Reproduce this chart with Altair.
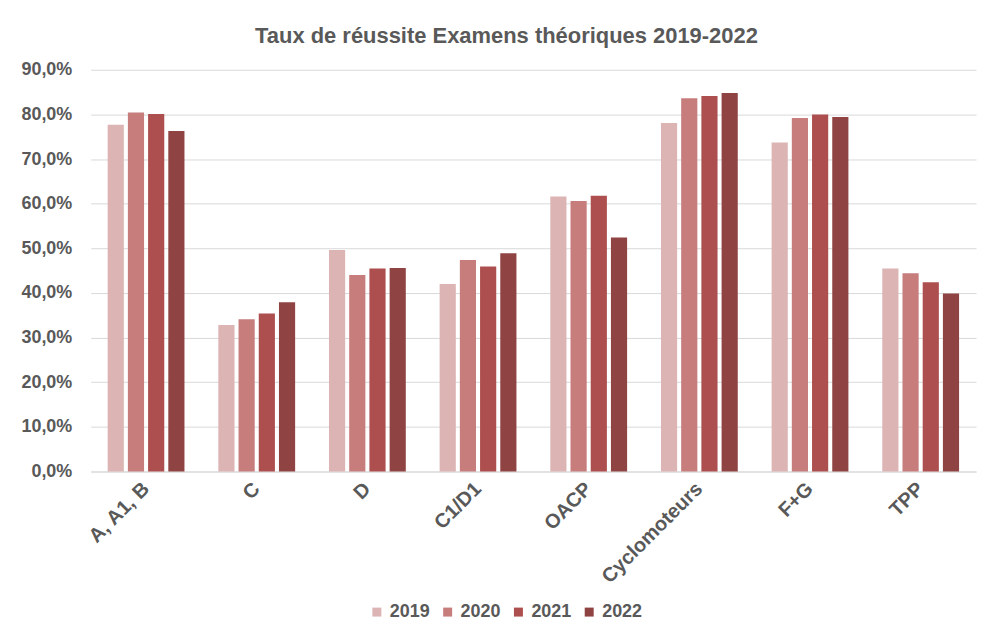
import altair as alt
import pandas as pd

categories = ["A, A1, B", "C", "D", "C1/D1", "OACP", "Cyclomoteurs", "F+G", "TPP"]
years = ["2019", "2020", "2021", "2022"]
v2019 = [77.7, 32.8, 49.6, 42.0, 61.6, 78.1, 73.7, 45.5]
v2020 = [80.4, 34.1, 44.0, 47.4, 60.6, 83.6, 79.2, 44.4]
v2021 = [80.1, 35.4, 45.5, 45.9, 61.8, 84.1, 80.0, 42.4]
v2022 = [76.3, 37.9, 45.6, 48.9, 52.4, 84.8, 79.4, 39.9]
colors = ["#dcb4b4", "#c67d7c", "#ad4f4e", "#8f4343"]

rows = []
for y, vals in zip(years, [v2019, v2020, v2021, v2022]):
    for c, v in zip(categories, vals):
        rows.append({"cat": c, "year": y, "val": v / 100})
df = pd.DataFrame(rows)

font = "Liberation Sans"
gray = "#595959"

chart = alt.Chart(df).mark_bar().encode(
    x=alt.X("cat:N", sort=categories, title=None,
            scale=alt.Scale(paddingInner=0.306, paddingOuter=0.153),
            axis=alt.Axis(labelAngle=-45, labelFont=font, labelFontSize=20,
                          labelFontWeight="bold", labelColor=gray, ticks=False,
                          domainColor="#d9d9d9", labelPadding=14, labelAlign="right",
                          labelBaseline="middle")),
    xOffset=alt.XOffset("year:N", sort=years,
                        scale=alt.Scale(paddingInner=0.2, paddingOuter=0)),
    y=alt.Y("val:Q", title=None,
            scale=alt.Scale(domain=[0, 0.9], nice=False),
            axis=alt.Axis(values=[i / 10 for i in range(10)],
                          labelExpr="replace(format(datum.value*100, '.1f'), '.', ',') + '%'",
                          labelFont=font, labelFontSize=18, labelFontWeight="bold",
                          labelColor=gray, ticks=False, domain=False,
                          gridColor="#d9d9d9", labelPadding=19)),
    color=alt.Color("year:N", sort=years, scale=alt.Scale(domain=years, range=colors),
                    legend=alt.Legend(orient="none", legendX=278, legendY=535,
                                      direction="horizontal", title=None,
                                      symbolType="square",
                                      labelFont=font, labelFontSize=18, labelFontWeight="bold",
                                      labelColor=gray, symbolSize=81, symbolStrokeWidth=0,
                                      labelOffset=4, columnPadding=8)),
).properties(
    width=888, height=403,
    padding={"left": 12, "top": 16, "right": 2, "bottom": 0},
    title=alt.TitleParams("Taux de réussite Examens théoriques 2019-2022",
                          font=font, fontSize=22, fontWeight="bold", color=gray,
                          offset=13, dx=-27),
).configure_view(stroke=None)

chart.save("out.html", embed_options={"renderer": "svg", "actions": False})
